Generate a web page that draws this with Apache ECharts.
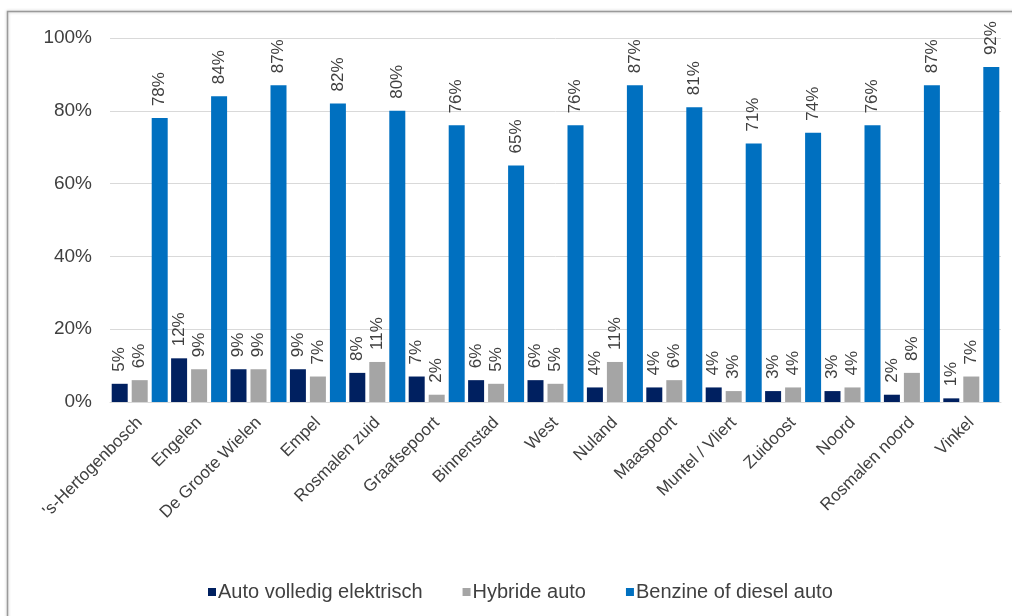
<!DOCTYPE html>
<html>
<head>
<meta charset="utf-8">
<script src="https://cdn.jsdelivr.net/npm/echarts@6/dist/echarts.min.js"></script>
<style>
  html, body { margin: 0; padding: 0; background: #fff; }
  #chart { width: 1012px; height: 616px; }
</style>
</head>
<body>
<div id="chart"></div>
<script>
// Wijken / kernen
const categories = ["'s-Hertogenbosch", 'Engelen', 'De Groote Wielen', 'Empel', 'Rosmalen zuid',
  'Graafsepoort', 'Binnenstad', 'West', 'Nuland', 'Maaspoort', 'Muntel / Vliert', 'Zuidoost',
  'Noord', 'Rosmalen noord', 'Vinkel'];

// Aandeel per type auto (%)
const elektrisch = [5, 12, 9, 9, 8, 7, 6, 6, 4, 4, 4, 3, 3, 2, 1];
const hybride    = [6, 9, 9, 7, 11, 2, 5, 5, 11, 6, 3, 4, 4, 8, 7];
const benzine    = [78, 84, 87, 82, 80, 76, 65, 76, 87, 81, 71, 74, 76, 87, 92];

const yTicks = [0, 20, 40, 60, 80, 100];

const seriesNames = ['Auto volledig elektrisch', 'Hybride auto', 'Benzine of diesel auto'];
const colors = ['#002060', '#A5A5A5', '#0070C0'];

const textColor = '#404040';
const font = 'Liberation Sans, Arial, sans-serif';

const chart = echarts.init(document.getElementById('chart'));

function barSeries(name, data, color) {
  return {
    name: name,
    type: 'bar',
    data: data,
    barWidth: 16,
    barGap: '25%',
    itemStyle: { color: color },
    label: {
      show: true,
      position: 'top',
      rotate: 90,
      align: 'left',
      verticalAlign: 'middle',
      distance: 12,
      formatter: '{c}%',
      color: textColor,
      fontFamily: font,
      fontSize: 17
    }
  };
}

chart.setOption({
  animation: false,
  textStyle: { fontFamily: font },
  graphic: [{
    type: 'rect',
    shape: { x: 7.5, y: 11.5, width: 1100, height: 700 },
    style: { fill: 'none', stroke: '#9a9a9a', lineWidth: 1.5, shadowBlur: 3, shadowColor: 'rgba(0,0,0,0.25)' },
    z: -1
  }],
  grid: { left: 110, right: 11, top: 38, bottom: 214 },
  legend: {
    top: 577,
    left: 203,
    itemWidth: 8,
    itemHeight: 8,
    itemGap: 40,
    icon: 'rect',
    textStyle: { color: textColor, fontSize: 20, fontFamily: font, padding: [0, 0, 0, -3] },
    data: seriesNames
  },
  xAxis: {
    type: 'category',
    data: categories,
    axisLine: { show: true, lineStyle: { color: '#d9d9d9' } },
    axisTick: { show: false },
    axisLabel: {
      rotate: 45,
      interval: 0,
      color: textColor,
      fontSize: 17,
      fontFamily: font,
      margin: 18
    }
  },
  yAxis: {
    type: 'value',
    min: yTicks[0],
    max: yTicks[yTicks.length - 1],
    interval: 20,
    axisLine: { show: false },
    axisTick: { show: false },
    splitLine: { lineStyle: { color: '#d9d9d9', width: 1 } },
    axisLabel: {
      formatter: '{value}%',
      color: textColor,
      fontSize: 19,
      fontFamily: font,
      margin: 18
    }
  },
  series: [
    barSeries(seriesNames[0], elektrisch, colors[0]),
    barSeries(seriesNames[1], hybride, colors[1]),
    barSeries(seriesNames[2], benzine, colors[2])
  ]
});
</script>
</body>
</html>
